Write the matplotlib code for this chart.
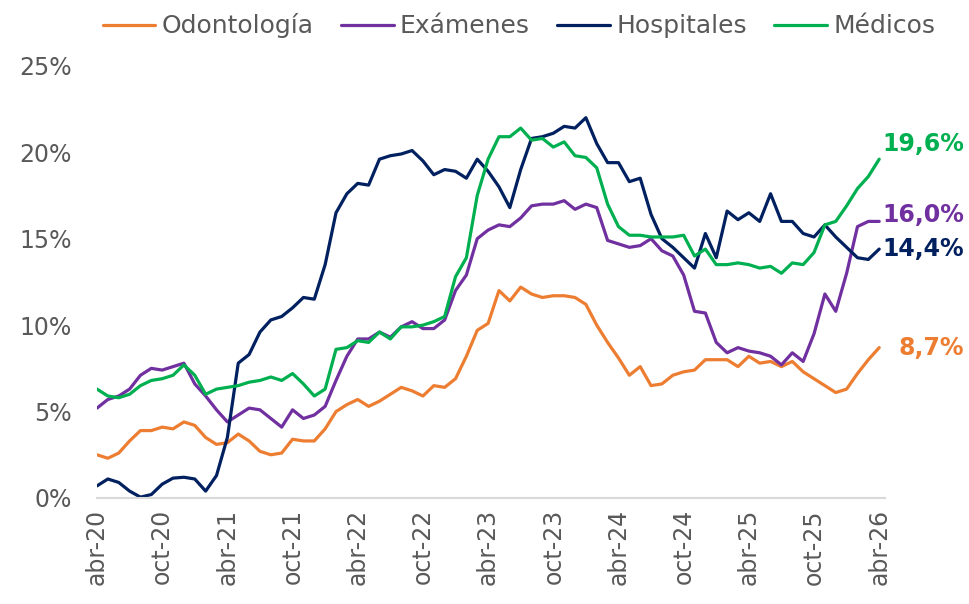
import matplotlib
matplotlib.use("Agg")
import matplotlib.pyplot as plt
import numpy as np

# etiquetas del eje x (cada 6 meses, abr-20 .. abr-26)
tick_labels = ["abr-20", "oct-20", "abr-21", "oct-21", "abr-22", "oct-22", "abr-23",
               "oct-23", "abr-24", "oct-24", "abr-25", "oct-25", "abr-26"]

# series mensuales (%), abr-20 .. abr-26
odontologia = [2.5, 2.3, 2.6, 3.3, 3.9, 3.9, 4.1, 4.0, 4.4, 4.2, 3.5, 3.1, 3.2, 3.7, 3.3, 2.7,
               2.5, 2.6, 3.4, 3.3, 3.3, 4.0, 5.0, 5.4, 5.7, 5.3, 5.6, 6.0, 6.4, 6.2, 5.9, 6.5,
               6.4, 6.9, 8.2, 9.7, 10.1, 12.0, 11.4, 12.2, 11.8, 11.6, 11.7, 11.7, 11.6, 11.2,
               10.0, 9.0, 8.1, 7.1, 7.6, 6.5, 6.6, 7.1, 7.3, 7.4, 8.0, 8.0, 8.0, 7.6, 8.2, 7.8,
               7.9, 7.6, 7.9, 7.3, 6.9, 6.5, 6.1, 6.3, 7.2, 8.0, 8.7]
examenes = [5.2, 5.7, 5.9, 6.3, 7.1, 7.5, 7.4, 7.6, 7.8, 6.6, 5.9, 5.1, 4.4, 4.8, 5.2, 5.1,
            4.6, 4.1, 5.1, 4.6, 4.8, 5.3, 6.8, 8.2, 9.2, 9.2, 9.6, 9.3, 9.9, 10.2, 9.8, 9.8,
            10.3, 12.0, 12.9, 15.0, 15.5, 15.8, 15.7, 16.2, 16.9, 17.0, 17.0, 17.2, 16.7, 17.0,
            16.8, 14.9, 14.7, 14.5, 14.6, 15.0, 14.3, 14.0, 12.9, 10.8, 10.7, 9.0, 8.4, 8.7,
            8.5, 8.4, 8.2, 7.7, 8.4, 7.9, 9.5, 11.8, 10.8, 13.0, 15.7, 16.0, 16.0]
hospitales = [0.7, 1.1, 0.9, 0.4, 0.05, 0.2, 0.8, 1.15, 1.2, 1.1, 0.4, 1.3, 3.5, 7.8, 8.3, 9.6,
              10.3, 10.5, 11.0, 11.6, 11.5, 13.5, 16.5, 17.6, 18.2, 18.1, 19.6, 19.8, 19.9, 20.1,
              19.5, 18.7, 19.0, 18.9, 18.5, 19.6, 18.9, 18.0, 16.8, 19.0, 20.8, 20.9, 21.1, 21.5,
              21.4, 22.0, 20.5, 19.4, 19.4, 18.3, 18.5, 16.4, 15.0, 14.5, 13.9, 13.3, 15.3, 13.9,
              16.6, 16.1, 16.5, 16.0, 17.6, 16.0, 16.0, 15.3, 15.1, 15.8, 15.1, 14.5, 13.9, 13.8,
              14.4]
medicos = [6.3, 5.9, 5.8, 6.0, 6.5, 6.8, 6.9, 7.1, 7.7, 7.1, 6.0, 6.3, 6.4, 6.5, 6.7, 6.8,
           7.0, 6.8, 7.2, 6.6, 5.9, 6.3, 8.6, 8.7, 9.1, 9.0, 9.6, 9.2, 9.9, 9.9, 10.0, 10.2,
           10.5, 12.8, 13.9, 17.5, 19.6, 20.9, 20.9, 21.4, 20.7, 20.8, 20.3, 20.6, 19.8, 19.7,
           19.1, 17.0, 15.7, 15.2, 15.2, 15.1, 15.1, 15.1, 15.2, 14.0, 14.4, 13.5, 13.5, 13.6,
           13.5, 13.3, 13.4, 13.0, 13.6, 13.5, 14.2, 15.8, 16.0, 16.9, 17.9, 18.6, 19.6]

series = [("Odontología", odontologia, "#ED7D31"),
          ("Exámenes", examenes, "#7030A0"),
          ("Hospitales", hospitales, "#002060"),
          ("Médicos", medicos, "#00B050")]
end_labels = ["8,7%", "16,0%", "14,4%", "19,6%"]
end_offsets = [0.0, 0.35, 0.0, 0.85]   # ajuste vertical de las etiquetas finales

plt.rcParams['font.family'] = ['DejaVu Sans']
gray = "#595959"

fig = plt.figure(figsize=(9.7, 6.04), dpi=100)
ax = fig.add_axes([0.1, 0.1755, 0.812, 0.7155])

x = np.arange(len(odontologia))
for (name, vals, color), lab, off in zip(series, end_labels, end_offsets):
    ax.plot(x, vals, color=color, lw=2.3, label=name, solid_capstyle='round')
    ax.text(79.8, vals[-1] + off, lab, color=color, fontsize=17,
            fontweight='bold', va='center', ha='right', clip_on=False)

ax.set_xlim(0, 72.5)
ax.set_ylim(0, 25)
ax.set_yticks(range(0, 26, 5))
ax.set_yticklabels([f"{v}%" for v in range(0, 26, 5)])
ax.set_xticks(range(0, 73, 6))
ax.set_xticklabels(tick_labels, rotation=90)
ax.tick_params(axis='both', length=0, labelsize=17, labelcolor=gray)
ax.tick_params(axis='y', pad=18)
ax.tick_params(axis='x', pad=8)

for s in ['top', 'right', 'left']:
    ax.spines[s].set_visible(False)
ax.spines['bottom'].set_color('#d9d9d9')
ax.spines['bottom'].set_linewidth(1.5)

fig.legend(loc='upper center', bbox_to_anchor=(0.535, 1.015), ncol=4, frameon=False,
           fontsize=18, handlelength=2.1, handletextpad=0.25, columnspacing=1.1,
           labelcolor=gray)

fig.savefig("out.png", dpi=100)
